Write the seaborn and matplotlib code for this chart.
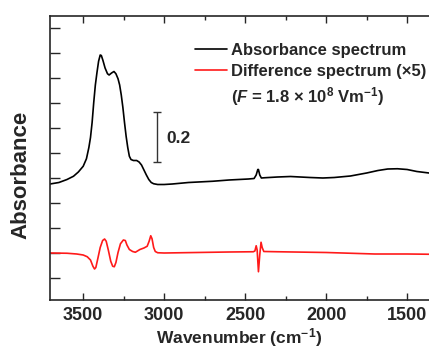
import numpy as np
import pandas as pd
import seaborn as sns
import matplotlib.pyplot as plt
from matplotlib.ticker import MultipleLocator
from matplotlib.lines import Line2D

# absorbance spectrum
abs_wn = [3705, 3650, 3600, 3560, 3530, 3500, 3480, 3465, 3455, 3445, 3435, 3425,
          3415, 3405, 3395, 3388, 3378, 3365, 3350, 3340, 3325, 3310, 3298, 3285,
          3275, 3265, 3255, 3245, 3235, 3225, 3215, 3205, 3190, 3170, 3155, 3140,
          3125, 3110, 3095, 3080, 3065, 3040, 3000, 2950, 2850, 2700, 2600, 2480,
          2445, 2432, 2422, 2418, 2410, 2400, 2380, 2300, 2220, 2100, 2020, 1950,
          1850, 1750, 1680, 1620, 1560, 1500, 1440, 1365]
abs_val = [0.374, 0.380, 0.392, 0.405, 0.422, 0.445, 0.475, 0.52, 0.56, 0.62, 0.70, 0.77,
           0.82, 0.865, 0.89, 0.888, 0.868, 0.838, 0.815, 0.81, 0.818, 0.824, 0.815, 0.795,
           0.77, 0.73, 0.68, 0.62, 0.565, 0.52, 0.485, 0.472, 0.468, 0.468, 0.462, 0.45,
           0.43, 0.41, 0.392, 0.38, 0.375, 0.372, 0.372, 0.374, 0.380, 0.385, 0.390, 0.394,
           0.396, 0.41, 0.432, 0.432, 0.41, 0.398, 0.399, 0.402, 0.404, 0.400, 0.398, 0.400,
           0.406, 0.418, 0.428, 0.434, 0.435, 0.432, 0.424, 0.418]

# difference spectrum x5, offset
diff_wn = [3705, 3600, 3540, 3500, 3475, 3455, 3440, 3430, 3422, 3410, 3395, 3380,
           3368, 3358, 3345, 3330, 3318, 3308, 3298, 3285, 3270, 3252, 3240, 3230,
           3215, 3195, 3178, 3165, 3150, 3125, 3105, 3093, 3083, 3075, 3065, 3055,
           3040, 3000, 2800, 2600, 2450, 2440, 2432, 2426, 2418, 2410, 2402, 2395,
           2385, 2300, 2100, 2000, 1800, 1700, 1500, 1365]
diff_val = [0.098, 0.097, 0.094, 0.090, 0.083, 0.07, 0.045, 0.034, 0.04, 0.075, 0.12, 0.148,
            0.154, 0.145, 0.11, 0.065, 0.045, 0.043, 0.06, 0.10, 0.135, 0.15, 0.148, 0.13,
            0.112, 0.104, 0.101, 0.106, 0.112, 0.118, 0.125, 0.145, 0.167, 0.155, 0.12, 0.104,
            0.099, 0.098, 0.100, 0.102, 0.103, 0.106, 0.127, 0.11, 0.023, 0.09, 0.141, 0.12,
            0.104, 0.103, 0.101, 0.100, 0.096, 0.094, 0.094, 0.093]

sns.set_style("ticks")
plt.rcParams['font.family'] = ['Liberation Sans', 'DejaVu Sans']
plt.rcParams['font.weight'] = 'bold'
plt.rcParams['mathtext.fontset'] = 'custom'
plt.rcParams['mathtext.rm'] = 'Liberation Sans:bold'
plt.rcParams['mathtext.bf'] = 'Liberation Sans:bold'
plt.rcParams['mathtext.it'] = 'Liberation Sans:italic:bold'

fig = plt.figure(figsize=(4.29, 3.5), dpi=100)
ax = fig.add_axes([50/429, 50/350, 379/429, 284/350])

sns.lineplot(x=abs_wn, y=abs_val, color='black', lw=1.2, ax=ax)
sns.lineplot(x=diff_wn, y=diff_val, color='#ff1a1a', lw=1.2, ax=ax)

ax.set_xlim(3705, 1365)
ax.set_ylim(-0.09, 1.046)
ax.xaxis.set_major_locator(MultipleLocator(500))
ax.xaxis.set_minor_locator(MultipleLocator(250))
ax.yaxis.set_major_locator(MultipleLocator(0.1))
ax.tick_params(axis='x', which='major', direction='in', top=True, length=5, width=1,
               labelsize=13, pad=5)
ax.tick_params(axis='x', which='minor', direction='in', top=True, length=3, width=1)
ax.tick_params(axis='y', direction='in', length=7, width=1, labelleft=False)
for lab in ax.get_xticklabels():
    lab.set_fontweight('bold')
ax.spines['right'].set_visible(False)
for s in ['left', 'top', 'bottom']:
    ax.spines[s].set_linewidth(1.2)

ax.set_xlabel('Wavenumber (cm$^{-1}$)', fontsize=12.5, fontweight='bold')
ax.xaxis.set_label_coords(0.5, -0.093)
ax.set_ylabel('Absorbance', fontsize=16, fontweight='bold')
ax.yaxis.set_label_coords(-0.05, 0.44)

# scale bar
ax.errorbar([3043], [0.562], yerr=[0.1], color='#333333', lw=1, capsize=3, capthick=1)
ax.text(2985, 0.555, '0.2', fontsize=12.5, fontweight='bold', va='center')

handles = [Line2D([], [], color='black', lw=1.2), Line2D([], [], color='#ff1a1a', lw=1.2),
           Line2D([], [], color='none')]
labels = ['Absorbance spectrum', 'Difference spectrum (\u00d75)',
          '($F$ = 1.8 \u00d7 10$^{8}$ Vm$^{-1}$)']
leg = ax.legend(handles, labels, loc='upper left', bbox_to_anchor=(0.365, 0.93),
                frameon=False, fontsize=12, handlelength=1.9, handletextpad=0.28,
                labelspacing=0.38, borderaxespad=0)
for t in leg.get_texts():
    t.set_fontweight('bold')

fig.savefig('out.png', dpi=100)
